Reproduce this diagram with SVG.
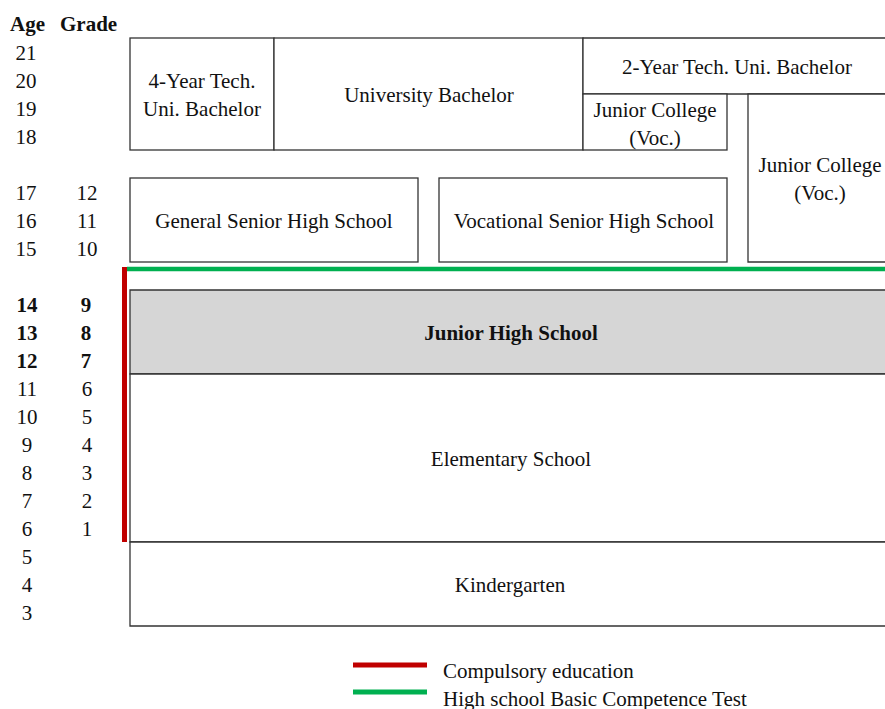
<svg xmlns="http://www.w3.org/2000/svg" width="885" height="709" viewBox="0 0 885 709">
<style>
text{font-family:"Liberation Serif","Times New Roman",serif;font-size:21px;fill:#111}
.c{text-anchor:middle}
.b{font-weight:bold}
.box{fill:#fff;stroke:#333;stroke-width:1.3}
.gray{fill:#d6d6d6}
</style>
<rect width="885" height="709" fill="#fff"/>
<g id="axis">
<text class="b" x="10" y="31">Age</text>
<text class="b" x="60" y="31">Grade</text>
<g class="c">
<text x="26" y="60">21</text>
<text x="26" y="88">20</text>
<text x="26" y="116">19</text>
<text x="26" y="144">18</text>
<text x="26" y="200">17</text><text x="87" y="200">12</text>
<text x="26" y="228">16</text><text x="87" y="228">11</text>
<text x="26" y="256">15</text><text x="87" y="256">10</text>
<text class="b" x="27" y="312">14</text><text class="b" x="86" y="312">9</text>
<text class="b" x="27" y="340">13</text><text class="b" x="86" y="340">8</text>
<text class="b" x="27" y="368">12</text><text class="b" x="86" y="368">7</text>
<text x="27" y="396">11</text><text x="87" y="396">6</text>
<text x="27" y="424">10</text><text x="87" y="424">5</text>
<text x="27" y="452">9</text><text x="87" y="452">4</text>
<text x="27" y="480">8</text><text x="87" y="480">3</text>
<text x="27" y="508">7</text><text x="87" y="508">2</text>
<text x="27" y="536">6</text><text x="87" y="536">1</text>
<text x="27" y="564">5</text>
<text x="27" y="592">4</text>
<text x="27" y="620">3</text>
</g>
</g>
<g id="tech4">
<rect class="box" x="130" y="38" width="144" height="112"/>
<text class="c" x="202" y="88">4-Year Tech.</text>
<text class="c" x="202" y="116">Uni. Bachelor</text>
</g>
<g id="university">
<rect class="box" x="274" y="38" width="309" height="112"/>
<text class="c" x="429" y="102">University Bachelor</text>
</g>
<g id="tech2">
<path class="box" d="M886,38 H583 V94 H886"/>
<text class="c" x="737" y="74">2-Year Tech. Uni. Bachelor</text>
</g>
<g id="jc-small">
<rect class="box" x="583" y="94" width="144" height="56"/>
<text class="c" x="655" y="117">Junior College</text>
<text class="c" x="655" y="145">(Voc.)</text>
</g>
<g id="jc-big">
<path class="box" d="M886,94 H748 V262 H886"/>
<text class="c" x="820" y="172">Junior College</text>
<text class="c" x="820" y="200">(Voc.)</text>
</g>
<g id="general">
<rect class="box" x="130" y="178" width="288" height="84"/>
<text class="c" x="274" y="228">General Senior High School</text>
</g>
<g id="vocational">
<rect class="box" x="439" y="178" width="288" height="84"/>
<text class="c" x="584" y="228">Vocational Senior High School</text>
</g>
<g id="junior-high">
<path class="box gray" d="M886,290 H130 V374 H886"/>
<text class="c b" x="511" y="340">Junior High School</text>
</g>
<g id="elementary">
<path class="box" d="M886,374 H130 V542 H886"/>
<text class="c" x="511" y="466">Elementary School</text>
</g>
<g id="kindergarten">
<path class="box" d="M886,542 H130 V626 H886"/>
<text class="c" x="510" y="592">Kindergarten</text>
</g>
<g id="connectors">
<line x1="124.5" y1="267" x2="124.5" y2="542" stroke="#c00000" stroke-width="5"/>
<line x1="127" y1="269" x2="885" y2="269" stroke="#00b050" stroke-width="4.5"/>
</g>
<g id="legend">
<line x1="353" y1="665" x2="427" y2="665" stroke="#c00000" stroke-width="5"/>
<line x1="353" y1="692" x2="427" y2="692" stroke="#00b050" stroke-width="5"/>
<text x="443" y="678">Compulsory education</text>
<text x="443" y="706">High school Basic Competence Test</text>
</g>
</svg>
